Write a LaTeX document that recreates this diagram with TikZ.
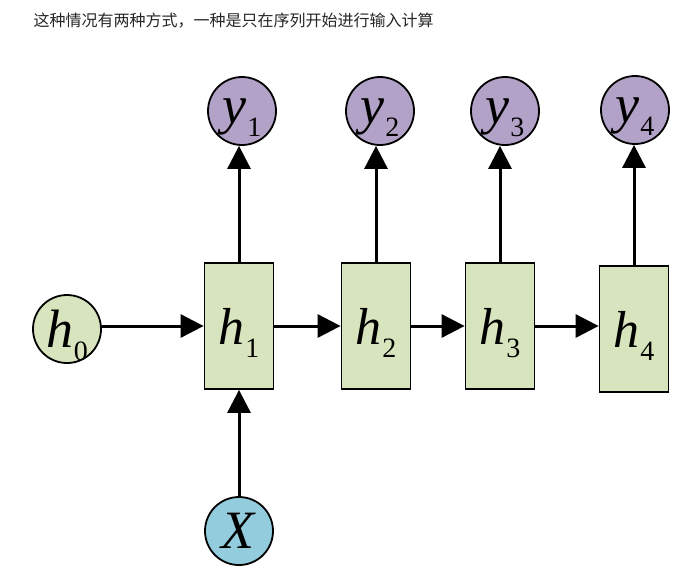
\documentclass[tikz,border=0pt]{standalone}
\usepackage{fontspec}
\setmainfont{Liberation Serif}
\newfontfamily\cjkfont{Noto Sans CJK SC}
\usetikzlibrary{arrows.meta}

\definecolor{cellgreen}{HTML}{D7E4BD}
\definecolor{outpurple}{HTML}{B3A2C7}
\definecolor{inblue}{HTML}{93CDDD}

% letter with a lowered index
\newcommand{\seqlab}[2]{\textit{#1}\kern0.5pt\raisebox{-13pt}[0pt][0pt]{\fontsize{28}{28}\selectfont #2}}

\begin{document}
\begin{tikzpicture}[x=1pt, y=-1pt,
  cell/.style={draw, line width=1.8pt, fill=cellgreen, minimum width=69pt, minimum height=126pt, inner sep=0pt, font=\fontsize{52}{52}\selectfont},
  state/.style={circle, draw, line width=1.8pt, minimum size=68pt, inner sep=0pt, font=\fontsize{54}{54}\selectfont},
  output/.style={state, fill=outpurple, text depth=0pt},
  link/.style={line width=3pt, -{Triangle[length=23pt, width=23pt]}}]
\useasboundingbox (0,0) rectangle (700,574);

\node[anchor=west, text=black!85, font=\cjkfont\fontsize{16}{16}\selectfont] (title) at (30,21) {这种情况有两种方式，一种是只在序列开始进行输入计算};

\node[state, fill=cellgreen] (h0) at (67,329) {\seqlab{h}{0}};
\node[cell] (h1) at (239,326) {\seqlab{h}{1}};
\node[cell] (h2) at (376,326) {\seqlab{h}{2}};
\node[cell] (h3) at (500,326) {\seqlab{h}{3}};
\node[cell] (h4) at (634,329) {\seqlab{h}{4}};

\node[output] (y1) at (242,111) {\seqlab{y}{1}};
\node[output] (y2) at (380,111) {\seqlab{y}{2}};
\node[output] (y3) at (505,111) {\seqlab{y}{3}};
\node[output] (y4) at (635,110) {\seqlab{y}{4}};

\node[state, fill=inblue] (x) at (239,531) {\textit{X}};

\draw[link] (h0.east |- h1) -- (h1.west);
\draw[link] (h1.east) -- (h2.west);
\draw[link] (h2.east) -- (h3.west);
\draw[link] (h3.east) -- (h3.east -| h4.west);

\draw[link] (h1.north) -- (h1.north |- y1.south);
\draw[link] (h2.north) -- (h2.north |- y2.south);
\draw[link] (h3.north) -- (h3.north |- y3.south);
\draw[link] (h4.north) -- (h4.north |- y4.south);

\draw[link] (x.north) -- (h1.south);
\end{tikzpicture}
\end{document}
